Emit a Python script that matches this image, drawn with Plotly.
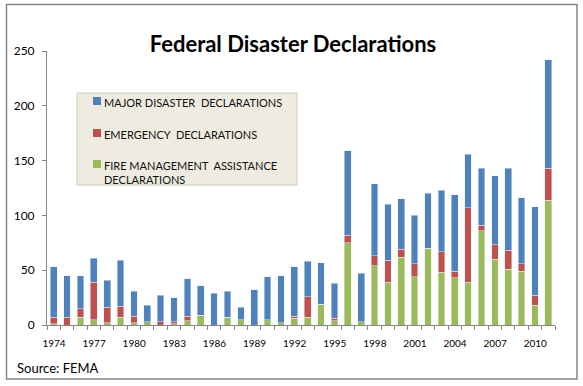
import plotly.graph_objects as go

years = list(range(1974, 2012))
fire = [1, 0, 7, 5, 2, 7, 2, 3, 0, 1, 4, 9, 0, 7, 5, 0, 5, 2, 6, 7, 19, 4, 75, 3,
        54, 39, 62, 44, 70, 48, 43, 39, 86, 60, 51, 49, 18, 114]
emergency = [6, 7, 8, 34, 14, 10, 6, 0, 3, 2, 4, 0, 0, 0, 0, 0, 0, 0, 2, 19, 0, 2, 7, 0,
             9, 20, 7, 12, 0, 19, 6, 68, 5, 13, 17, 7, 9, 29]
major = [46, 38, 30, 22, 25, 42, 23, 15, 24, 22, 34, 27, 29, 24, 11, 32, 39, 43, 45, 32, 38, 32, 77, 44,
         66, 51, 46, 44, 50, 56, 70, 49, 52, 63, 75, 60, 81, 99]
tick_years = list(range(1974, 2012, 3))
y_ticks = [0, 50, 100, 150, 200, 250]

series_names = ["MAJOR DISASTER&nbsp; DECLARATIONS", "EMERGENCY&nbsp; DECLARATIONS",
                "FIRE MANAGEMENT&nbsp; ASSISTANCE<br>DECLARATIONS"]
series_colors = ["#4F81BD", "#C0504D", "#9BBB59"]

FONT = "Lato"
W, H = 583, 386
L, R, T, B = 47, 28, 51, 61
pw, ph = W - L - R, H - T - B

def px_x(px):
    return (px - L) / pw

def px_y(py):
    return (H - B - py) / ph

fig = go.Figure()
for vals, name, col in [(fire, series_names[2], series_colors[2]),
                        (emergency, series_names[1], series_colors[1]),
                        (major, series_names[0], series_colors[0])]:
    fig.add_trace(go.Bar(x=years, y=vals, name=name.replace("&nbsp;", "").replace("<br>", " "),
                         marker_color=col, showlegend=False))

# ticks on the category boundaries; labels shifted by half a category onto the bar centres
boundaries = [y - 0.5 for y in years] + [years[-1] + 0.5]
boundary_text = [str(int(b + 0.5)) if int(b + 0.5) in tick_years else "" for b in boundaries]
half_cat_px = int(round(pw / len(years) / 2))

fig.update_layout(
    width=W, height=H,
    margin=dict(l=L, r=R, t=T, b=B),
    paper_bgcolor="white", plot_bgcolor="white",
    barmode="stack", bargap=0.5,
    font=dict(family=FONT, color="#000000"),
    title=dict(text="<b>Federal Disaster Declarations</b>", x=px_x(293), xref="paper",
               xanchor="center", y=1 - 44 / H, yanchor="middle",
               font=dict(family=FONT, size=22, color="#000000")),
    xaxis=dict(range=[1973.5, 2011.5], tickmode="array", tickvals=boundaries,
               ticktext=boundary_text, ticks="outside", ticklen=4,
               tickcolor="#868686", tickwidth=1,
               showline=True, linecolor="#868686", linewidth=1,
               showgrid=False, zeroline=False, ticklabelstandoff=5,
               ticklabelshift=half_cat_px,
               tickfont=dict(family=FONT, size=10, color="#000000")),
    yaxis=dict(range=[0, 250], tickmode="array", tickvals=y_ticks,
               ticks="outside", ticklen=4, tickcolor="#868686",
               showline=True, linecolor="#868686", linewidth=1,
               showgrid=False, zeroline=False, ticklabelstandoff=5,
               tickfont=dict(family=FONT, size=12, color="#000000")),
)

# legend box (drawn manually to match the reference layout)
fig.add_shape(type="rect", xref="paper", yref="paper",
              x0=px_x(77), x1=px_x(297), y0=px_y(185), y1=px_y(93),
              line=dict(color="#D0CCBC", width=1), fillcolor="#EEECE1", layer="above")
legend_rows = [101, 133, 164]
for name, col, cy in zip(series_names, series_colors, legend_rows):
    fig.add_shape(type="rect", xref="paper", yref="paper",
                  x0=px_x(93), x1=px_x(101), y0=px_y(cy + 4), y1=px_y(cy - 4),
                  line=dict(color=col, width=0), fillcolor=col, layer="above")
    fig.add_annotation(text=name, xref="paper", yref="paper",
                       x=px_x(102), y=px_y(cy - 7), xanchor="left", yanchor="top",
                       align="left", showarrow=False,
                       font=dict(family=FONT, size=11, color="#111111"))

fig.add_annotation(text="Source: FEMA", xref="paper", yref="paper",
                   x=px_x(15), y=px_y(368), xanchor="left", yanchor="middle",
                   showarrow=False, font=dict(family=FONT, size=13, color="#000000"))

fig.add_shape(type="rect", xref="paper", yref="paper",
              x0=px_x(6.5), x1=px_x(577), y0=px_y(379), y1=px_y(4.5),
              line=dict(color="#868686", width=1.5), fillcolor="rgba(0,0,0,0)", layer="above")

fig.write_html("out.html", config={"displayModeBar": False},
               post_script="document.body.style.margin='0';document.body.style.overflow='hidden';")
